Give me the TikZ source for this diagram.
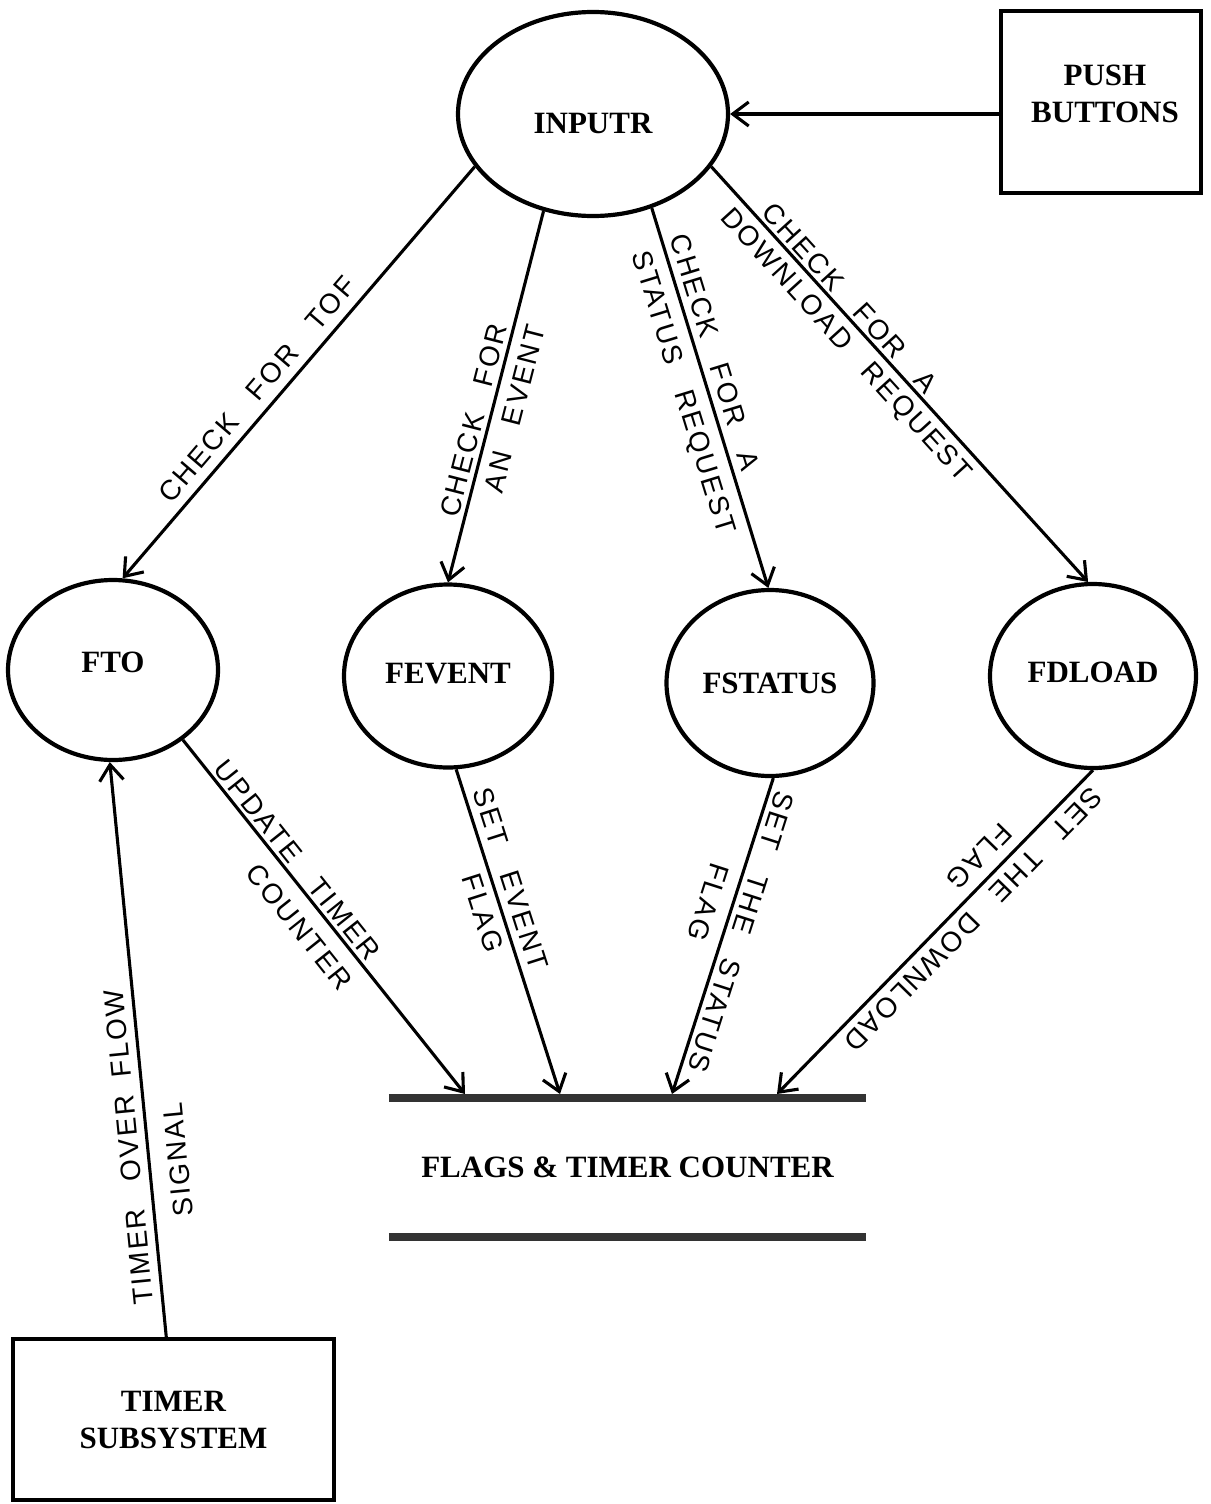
\documentclass[tikz,border=0pt]{standalone}
\usepackage{fontspec}
\setmainfont{Liberation Serif}
\newfontfamily\hand{Liberation Sans}[LetterSpace=8]
\usetikzlibrary{arrows.meta,shapes.geometric}
% gap between hand-lettered words
\newcommand\wg{\hspace{28pt}}

\begin{document}
\begin{tikzpicture}[x=1pt,y=-1pt,
  proc/.style={ellipse, draw, line width=4.2pt, inner sep=0pt,
    font=\bfseries\fontsize{31}{37}\selectfont},
  lift/.style={text height=20.5pt, text depth=#1},
  ext/.style={rectangle, draw, line width=4.2pt, inner sep=0pt},
  title/.style={font=\bfseries\fontsize{31}{37}\selectfont, align=center, inner sep=0pt},
  flow/.style={line width=3.1pt,
    -{Straight Barb[length=16pt,width=24pt,line width=3.1pt]}},
  lab/.style={sloped, inner sep=0pt, text height=20pt, text depth=0pt,
    font=\hand\fontsize{28}{34}\selectfont},
  storeline/.style={line width=8pt, black!80},
]
\useasboundingbox (0,0) rectangle (1210,1504);

% processes
\node[proc, minimum width=270pt, minimum height=204pt, text height=38pt, text depth=0pt]
  (inputr) at (593,114) {INPUTR};
\node[proc, minimum width=210pt, minimum height=180pt, lift=16pt] (fto) at (113,670) {FTO};
\node[proc, minimum width=208pt, minimum height=183pt, lift=6pt] (fevent) at (448,676) {FEVENT};
\node[proc, minimum width=207pt, minimum height=186pt] (fstatus) at (770,683) {FSTATUS};
\node[proc, minimum width=206pt, minimum height=184pt, lift=8pt] (fdload) at (1093,676) {FDLOAD};

% external entities
\node[ext, minimum width=200pt, minimum height=182pt] (pushbtn) at (1101,102) {};
\node[title] (pushbtn-text) at ([shift={(4,-8.5)}]pushbtn.center) {PUSH\\BUTTONS};
\node[ext, title, draw, line width=4.2pt, minimum width=321pt, minimum height=161pt]
  (timer) at (173.5,1419.5) {TIMER\\SUBSYSTEM};

% data store
\node[title, minimum width=477pt, minimum height=139pt] (store) at (627.5,1167.5)
  {FLAGS \& TIMER COUNTER};
\draw[storeline] (store.north west) -- (store.north east);
\draw[storeline] (store.south west) -- (store.south east);
\coordinate (in1) at (465,1094);
\coordinate (in2) at (560,1094);
\coordinate (in3) at (672,1094);
\coordinate (in4) at (777,1094);

% data flows
\draw[flow] (pushbtn.west |- inputr.east) -- (inputr.east);

\draw[flow] (inputr.204) --
  node[lab, pos=0.574, above=9.5pt] {CHECK\wg FOR\wg TOF} (fto.84);

\draw[flow] (inputr.243) --
  node[lab, pos=0.574, above=4.5pt] {CHECK\wg FOR}
  node[lab, pos=0.518, below=9.4pt] {AN\wg EVENT} (fevent.90);

\draw[flow] (inputr.302) --
  node[lab, pos=0.393, above=7pt] {CHECK\wg FOR\wg A}
  node[lab, pos=0.467, below=11pt] {STATUS\wg REQUEST} (fstatus.91);

\draw[flow] (inputr.336) --
  node[lab, pos=0.340, above=3.2pt] {CHECK\wg FOR\wg A}
  node[lab, pos=0.397, below=6.9pt] {DOWNLOAD\wg REQUEST} (fdload.93);

\draw[flow] (fto.315) --
  node[lab, pos=0.365, above=3.5pt] {UPDATE\wg TIMER}
  node[lab, pos=0.483, below=13.7pt] {COUNTER} (in1);

\draw[flow] (fevent.275) --
  node[lab, pos=0.355, above=7.3pt] {SET\wg EVENT}
  node[lab, pos=0.425, below=6.5pt] {FLAG} (in2);

\draw[flow] (fstatus.272) --
  node[lab, allow upside down, pos=0.471, above=5.3pt] {SET\wg THE\wg STATUS}
  node[lab, allow upside down, pos=0.416, below=12pt] {FLAG} (in3);

\draw[flow] (fdload.270) --
  node[lab, allow upside down, pos=0.421, above=7.5pt] {SET\wg THE\wg DOWNLOAD}
  node[lab, allow upside down, pos=0.312, below=9.2pt] {FLAG} (in4);

\draw[flow] (timer.95) --
  node[lab, allow upside down, pos=0.333, above=7.8pt] {TIMER\wg OVER\hspace{18pt}FLOW}
  node[lab, allow upside down, pos=0.304, below=17pt] {SIGNAL} (fto.268);
\end{tikzpicture}
\end{document}
